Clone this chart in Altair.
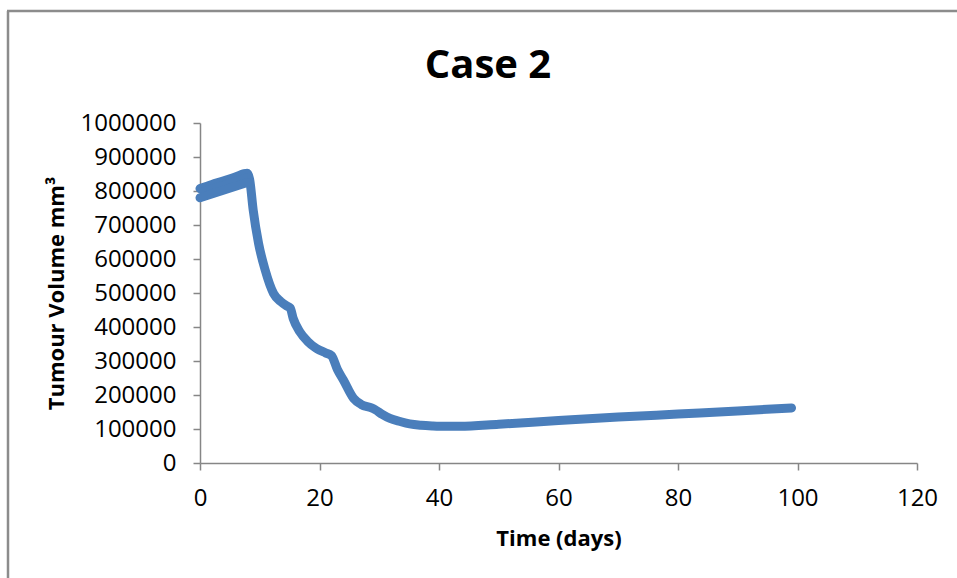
import altair as alt
import pandas as pd

# Main curve (centre of the thick line)
t_main = [0, 2, 4, 6, 7.9, 8.3, 8.9, 9.8, 10.9, 12.3, 13.5, 14.5, 15.1, 15.6, 16.7,
          18, 19.5, 21, 22, 23, 24, 25.7, 27, 28.7, 29.3, 30.5, 31.8, 33.5, 35.1,
          37, 39, 41, 43.5, 50, 60, 70, 80, 90, 99]
v_main = [807000, 819000, 830000, 842000, 852000, 835000, 744000, 646000, 568000,
          499000, 475000, 462000, 456000, 425000, 386000, 358000, 337000, 324000,
          316000, 275000, 244000, 190000, 172000, 162000, 157000, 143000, 131000,
          122000, 115000, 111000, 109000, 108000, 108000, 114000, 125000, 135000,
          144000, 153000, 162000]

# Oscillation band during the first days
t_band = [0, 7.9]
v_band_low = [780000, 825000]
v_band_high = [808000, 853000]

x_ticks = [0, 20, 40, 60, 80, 100, 120]
y_ticks = [0, 100000, 200000, 300000, 400000, 500000, 600000, 700000, 800000, 900000, 1000000]

TITLE = "Case 2"
BLUE = "#4A7EBB"
GREY = "#868686"
FONT = "Open Sans"

main_df = pd.DataFrame({"t": t_main, "v": v_main})
band_df = pd.DataFrame({"t": t_band, "low": v_band_low, "high": v_band_high})

x_scale = alt.Scale(domain=[0, 120], nice=False)
y_scale = alt.Scale(domain=[0, 1000000], nice=False)

x_axis = alt.Axis(values=x_ticks, title="Time (days)", grid=False,
                  tickSize=7, labelPadding=16, titlePadding=18, labelOverlap=False,
                  labelFlush=False)
y_axis = alt.Axis(values=y_ticks, title="Tumour Volume mm³", grid=False,
                  tickSize=7, labelPadding=17, titlePadding=11, format="d",
                  labelOverlap=False, labelFlush=False)

line = alt.Chart(main_df).mark_line(color=BLUE, strokeWidth=9, strokeCap="round",
                                    strokeJoin="round", interpolate="monotone").encode(
    x=alt.X("t:Q", scale=x_scale, axis=x_axis),
    y=alt.Y("v:Q", scale=y_scale, axis=y_axis))

area = alt.Chart(band_df).mark_area(color=BLUE, opacity=1).encode(
    x=alt.X("t:Q", scale=x_scale, axis=x_axis),
    y=alt.Y("low:Q", scale=y_scale, axis=y_axis), y2="high:Q")

low_line = alt.Chart(band_df).mark_line(color=BLUE, strokeWidth=9, strokeCap="round").encode(
    x=alt.X("t:Q", scale=x_scale, axis=x_axis),
    y=alt.Y("low:Q", scale=y_scale, axis=y_axis))

one = pd.DataFrame({"a": [0]})
frame_v = alt.Chart(one).mark_rule(color="#8c8c8c", strokeWidth=2.5).encode(
    x=alt.value(-192), y=alt.value(-112), y2=alt.value(480))
frame_h = alt.Chart(one).mark_rule(color="#8c8c8c", strokeWidth=2.5).encode(
    x=alt.value(-193), x2=alt.value(760), y=alt.value(-112))

title = alt.Chart(pd.DataFrame({"label": [TITLE]})).mark_text(
    font=FONT, fontSize=40, fontWeight="bold", color="black",
    align="center", baseline="alphabetic").encode(
    text="label:N", x=alt.value(288), y=alt.value(-45))

chart = alt.layer(line, area, low_line, frame_v, frame_h, title).properties(
    width=717, height=340,
    autosize=alt.AutoSizeParams(type="none"),
    padding={"left": 200, "top": 123, "right": 40, "bottom": 115},
    background="white",
).configure_view(stroke=None).configure_axis(
    domainColor=GREY, tickColor=GREY, domainWidth=1.5, tickWidth=1.5,
    labelFont=FONT, labelFontSize=24, labelColor="black",
    titleFont=FONT, titleFontSize=22, titleFontWeight="bold", titleColor="black",
)

chart.save("out.html", embed_options={"renderer": "svg", "actions": False})
